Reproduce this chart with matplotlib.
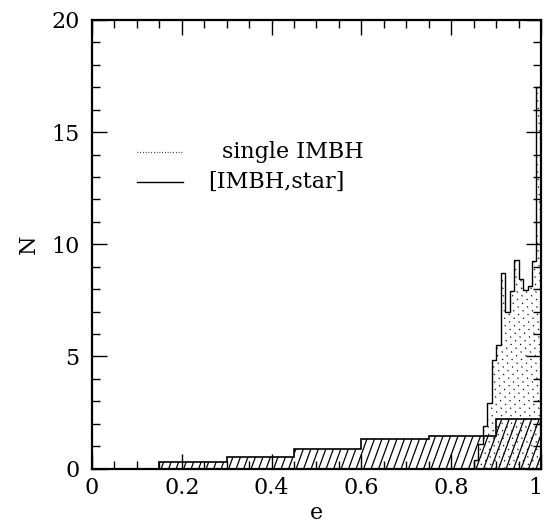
import numpy as np
import matplotlib
matplotlib.use("Agg")
import matplotlib.pyplot as plt
import matplotlib.transforms as mtransforms
from matplotlib.collections import LineCollection
from matplotlib.ticker import MultipleLocator, FuncFormatter

# eccentricity histograms
star_edges = [0.15, 0.30, 0.45, 0.60, 0.75, 0.90, 1.00]
star_counts = [0.29, 0.50, 0.87, 1.31, 1.45, 2.20]

single_edges = [0.85, 0.86, 0.87, 0.88, 0.89, 0.90, 0.91, 0.92,
                0.93, 0.94, 0.95, 0.96, 0.97, 0.98, 0.99, 1.00]
single_counts = [0.4, 1.1, 1.9, 2.9, 4.85, 5.5, 8.7, 7.0,
                 7.9, 9.3, 8.45, 7.95, 8.15, 9.25, 17.0]

legend_labels = ["single IMBH", "[IMBH,star]"]

FONT = "DejaVu Serif"
FS = 16

plt.rcParams["font.family"] = FONT
plt.rcParams["mathtext.fontset"] = "dejavuserif"


def hatch(ax, clip, angle, spacing, **kw):
    """diagonal hatch lines in axes coords, clipped to a patch"""
    t = np.tan(np.radians(angle))
    offs = np.arange(-2.0, 2.0, spacing)
    segs = [[(c, 0.0), (c + 1.0 / t, 1.0)] for c in offs]
    lc = LineCollection(segs, transform=ax.transAxes, **kw)
    ax.add_collection(lc)
    lc.set_clip_path(clip)
    return lc


fig = plt.figure(figsize=(5.46, 5.23), dpi=100)
ax = fig.add_axes([0.1685, 0.1042, 0.8223, 0.8576])

ax.set_xlim(0, 1)
ax.set_ylim(0, 20)

# filled step shapes used only as clip regions for the hatching
clip_star = ax.stairs(star_counts, star_edges, fill=True,
                      facecolor="none", edgecolor="none")
clip_single = ax.stairs(single_counts, single_edges, fill=True,
                        facecolor="none", edgecolor="none")

hatch(ax, clip_star, 70, 0.0167, colors="black", linewidths=0.9)
hatch(ax, clip_single, 40, 0.021, colors="black", linewidths=1.0,
      linestyles=[(0, (0.8, 3.4))])

ax.stairs(star_counts, star_edges, color="black", lw=1.2)
ax.stairs(single_counts, single_edges, color="black", lw=1.0)

# legend drawn by hand
ax.plot([0.100, 0.203], [0.706, 0.706], transform=ax.transAxes,
        color="black", lw=0.9, ls=(0, (0.6, 1.6)))
ax.plot([0.100, 0.203], [0.639, 0.639], transform=ax.transAxes,
        color="black", lw=1.0)
ax.text(0.29, 0.706, legend_labels[0], transform=ax.transAxes,
        fontsize=FS, va="center", ha="left")
ax.text(0.258, 0.639, legend_labels[1], transform=ax.transAxes,
        fontsize=FS, va="center", ha="left")

ax.xaxis.set_major_locator(MultipleLocator(0.2))
ax.xaxis.set_minor_locator(MultipleLocator(0.05))
ax.yaxis.set_major_locator(MultipleLocator(5))
ax.yaxis.set_minor_locator(MultipleLocator(1))
ax.xaxis.set_major_formatter(FuncFormatter(lambda v, p: f"{v:g}"))
ax.yaxis.set_major_formatter(FuncFormatter(lambda v, p: f"{v:g}"))

ax.tick_params(which="both", direction="in", top=True, right=True,
               labelsize=FS, width=1.0, color="black")
ax.tick_params(which="major", length=11)
ax.tick_params(which="minor", length=5.5)
ax.tick_params(axis="y", pad=9)
ax.tick_params(axis="x", pad=6)

for s in ax.spines.values():
    s.set_linewidth(1.6)

ax.set_xlabel("e", fontsize=FS, labelpad=2)
ax.set_ylabel("N", fontsize=FS, labelpad=8)

# keep the "1" at the right end inside the canvas
fig.canvas.draw()
shift = mtransforms.ScaledTranslation(-4 / 72, 0, fig.dpi_scale_trans)
for lab in ax.get_xticklabels():
    if lab.get_text() == "1":
        lab.set_transform(lab.get_transform() + shift)

fig.savefig("out.png", dpi=100)
